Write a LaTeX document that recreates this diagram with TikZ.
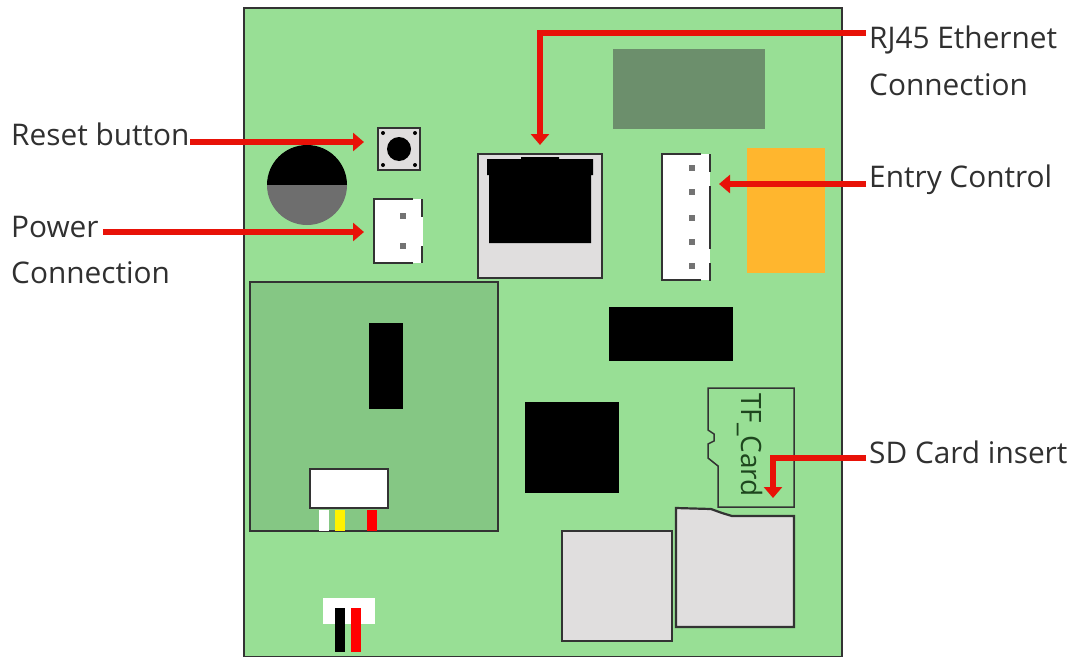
\documentclass[tikz,border=0pt]{standalone}
\usepackage{fontspec}
\setmainfont{Open Sans}
\usetikzlibrary{arrows.meta}
\definecolor{pcb}{HTML}{98DF95}
\definecolor{modgreen}{HTML}{85C784}
\definecolor{lgray}{HTML}{E0DEDE}
\definecolor{darkline}{HTML}{333333}
\definecolor{arrowred}{HTML}{E81208}
\definecolor{txt}{HTML}{303030}
\definecolor{relay}{HTML}{6C8F6C}
\definecolor{orangeblk}{HTML}{FFB62E}
\definecolor{buzz}{HTML}{6E6E6E}
\definecolor{tftext}{HTML}{1E461E}
\tikzset{
  x=1pt,y=-1pt,
  lbl/.style={anchor=base west,inner sep=0pt,font=\fontsize{29.8}{34}\selectfont,text=txt},
  redarrow/.style={draw=arrowred,line width=5.5pt,-{Triangle[length=11pt,width=18pt]}},
  edge/.style={draw=darkline,line width=2.2pt},
  pin/.style={fill=black!55},
}
\begin{document}
\begin{tikzpicture}
\useasboundingbox (0,0) rectangle (1078,656);
\fill[white] (0,0) rectangle (1078,656);
% board
\draw[fill=pcb,draw=darkline,line width=2pt] (244,8) rectangle (842,657);
% top module
\fill[relay] (613,49) rectangle (765,129);
% orange
\fill[orangeblk] (747,148) rectangle (825,273);
% buzzer
\fill[black] (267,185) arc[start angle=180,end angle=360,radius=40] -- cycle;
\fill[buzz] (267,185) arc[start angle=180,end angle=0,radius=40] -- cycle;
% reset
\draw[edge,fill=lgray] (378,128) rectangle (420,170);
\fill[black] (399,149) circle (12);
\foreach \a/\b in {383/133,415/133,383/165,415/165}{\fill[black] (\a,\b) circle (2);}
% power connector
\fill[white] (374,199) rectangle (423,263);
\draw[edge] (413,199) -- (374,199) -- (374,263) -- (413,263);
\draw[edge] (422,199) -- (422,217) (422,246) -- (422,263);
\fill[pin] (400,213) rectangle (406,219);
\fill[pin] (400,243) rectangle (406,249);
% RJ45
\draw[edge,fill=lgray] (478,154) rectangle (602,278);
\fill[black] (487,159) -- (521,159) -- (521,157) -- (559,157) -- (559,159) -- (593,159) -- (593,175) -- (591,175) -- (591,243) -- (489,243) -- (489,175) -- (487,175) -- cycle;
% entry connector
\fill[white] (662,154) rectangle (710,280);
\draw[edge] (701,154) -- (662,154) -- (662,280) -- (701,280);
\draw[edge] (710,154) -- (710,172) (710,186) -- (710,249) (710,263) -- (710,281);
\foreach \y in {168,192,218,242,266}{\fill[pin] (689,\y-3) rectangle (695,\y+3);}
% IC
\fill[black] (609,307) rectangle (733,361);
\fill[black] (525,402) rectangle (619,493);
% module
\draw[edge,fill=modgreen] (250,282) rectangle (498,531);
\fill[black] (369,323) rectangle (403,409);
\draw[edge,fill=white] (310,469) rectangle (388,508);
\fill[white] (319,510) rectangle (329,531);
\fill[yellow] (335,510) rectangle (345,531);
\fill[red] (367,510) rectangle (377,531);
% bottom connector
\fill[white] (323,598) rectangle (375,624);
\fill[black] (335,608) rectangle (345,652);
\fill[red] (351,608) rectangle (361,652);
% TF card
\draw[draw=darkline,line width=1.5pt] (794,388) -- (708,388) -- (708,430) -- (714,434) -- (714,441) -- (708,444) -- (708,458) -- (718,466) -- (718,507) -- (794,507) -- cycle;
\node[rotate=-90,inner sep=0pt,font=\fontsize{28}{33}\selectfont,text=tftext] (tf) at (750,445) {TF\_Card};
% SD
\draw[edge,fill=lgray] (794,516) -- (732,516) -- (722,513) -- (711,509) -- (676,508) -- (676,627) -- (794,627) -- cycle;
\draw[edge,fill=lgray] (562,531) rectangle (672,641);
% labels
\node[lbl] (rj) at (869,48) {RJ45 Ethernet};
\node[lbl] (rj2) at (869,95) {Connection};
\node[lbl] (ec) at (869,187) {Entry Control};
\node[lbl] (sd) at (869,463) {SD Card insert};
\node[lbl] (rb) at (11,145) {Reset button};
\node[lbl] (pw) at (11,237) {Power};
\node[lbl] (pw2) at (11,283) {Connection};
% end points
\coordinate (srj) at (866,33);
\coordinate (crj) at (540,33);
\coordinate (trj) at (540,145);
\coordinate (sec) at (866,184);
\coordinate (tec) at (719,184);
\coordinate (ssd) at (866,458);
\coordinate (csd) at (773,458);
\coordinate (tsd) at (773,498);
\coordinate (srb) at (190,142);
\coordinate (trb) at (364,142);
\coordinate (spw) at (103,232);
\coordinate (tpw) at (364,232);
% arrows
\draw[redarrow] (srj) -- (crj) -- (trj);
\draw[redarrow] (sec) -- (tec);
\draw[redarrow] (ssd) -- (csd) -- (tsd);
\draw[redarrow] (srb) -- (trb);
\draw[redarrow] (spw) -- (tpw);
\end{tikzpicture}
\end{document}
